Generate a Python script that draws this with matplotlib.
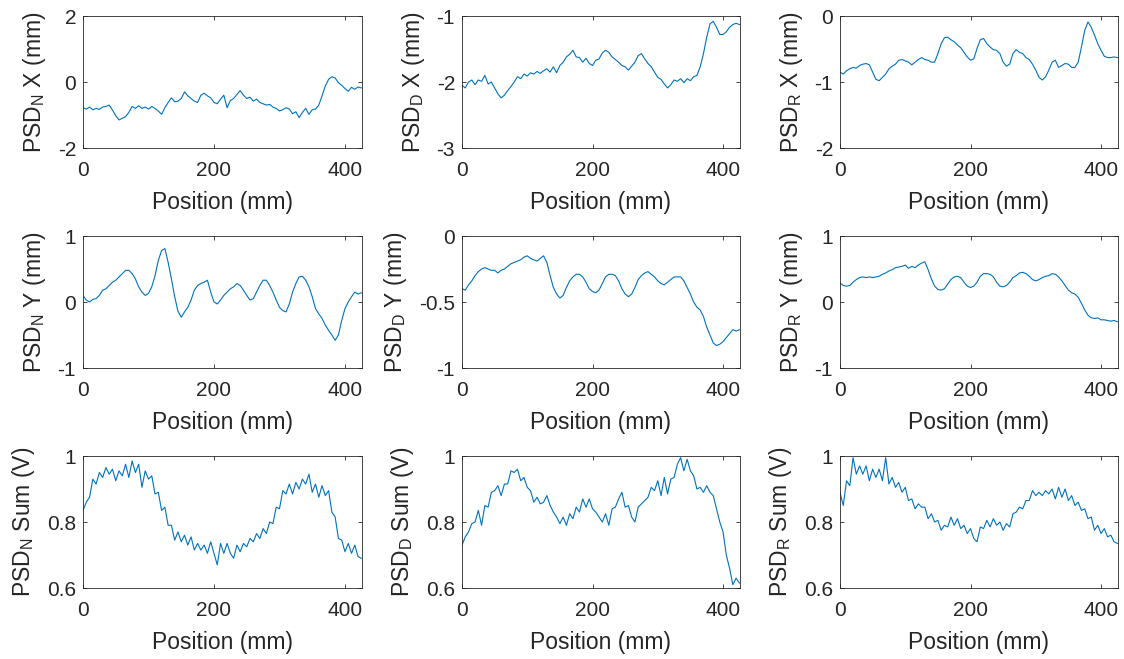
import numpy as np
import matplotlib
matplotlib.use("Agg")
import matplotlib.pyplot as plt

# Stage position along the scan, sampled every 5 mm
position_mm = np.arange(0, 430, 5)

# Detector N / D / R lateral offsets (mm)
psd_n_x = [-0.78, -0.82, -0.76, -0.84, -0.80, -0.83, -0.76, -0.74, -0.70, -0.85,
           -1.02, -1.15, -1.10, -1.05, -0.92, -0.74, -0.80, -0.72, -0.80, -0.76,
           -0.82, -0.74, -0.80, -0.88, -0.98, -0.78, -0.62, -0.48, -0.60, -0.58,
           -0.50, -0.30, -0.42, -0.50, -0.58, -0.62, -0.40, -0.34, -0.42, -0.48,
           -0.62, -0.66, -0.52, -0.40, -0.78, -0.56, -0.50, -0.38, -0.26, -0.40,
           -0.50, -0.46, -0.58, -0.52, -0.62, -0.66, -0.70, -0.68, -0.76, -0.80,
           -0.88, -0.84, -0.78, -0.82, -0.96, -0.90, -1.08, -0.92, -0.80, -0.98,
           -0.84, -0.82, -0.70, -0.42, -0.12, 0.08, 0.16, 0.12, -0.02, -0.10,
           -0.20, -0.28, -0.16, -0.22, -0.15, -0.18]
psd_d_x = [-2.05, -2.09, -2.00, -1.97, -2.04, -1.97, -1.99, -1.90, -2.03, -2.00,
           -2.09, -2.18, -2.24, -2.20, -2.13, -2.07, -2.00, -1.92, -1.95, -1.88,
           -1.91, -1.86, -1.88, -1.84, -1.87, -1.83, -1.80, -1.85, -1.77, -1.86,
           -1.75, -1.70, -1.62, -1.58, -1.52, -1.62, -1.63, -1.70, -1.64, -1.72,
           -1.75, -1.67, -1.65, -1.56, -1.52, -1.55, -1.62, -1.66, -1.70, -1.75,
           -1.77, -1.82, -1.76, -1.70, -1.60, -1.57, -1.65, -1.72, -1.77, -1.85,
           -1.93, -1.96, -2.03, -2.09, -2.04, -1.97, -1.99, -1.95, -2.01, -1.95,
           -1.98, -1.92, -1.90, -1.77, -1.57, -1.32, -1.12, -1.08, -1.17, -1.28,
           -1.28, -1.24, -1.17, -1.13, -1.11, -1.13]
psd_r_x = [-0.85, -0.88, -0.83, -0.80, -0.78, -0.79, -0.75, -0.73, -0.72, -0.74,
           -0.85, -0.96, -0.98, -0.93, -0.88, -0.80, -0.76, -0.73, -0.67, -0.66,
           -0.68, -0.70, -0.74, -0.70, -0.66, -0.63, -0.66, -0.67, -0.70, -0.70,
           -0.57, -0.42, -0.33, -0.32, -0.36, -0.39, -0.44, -0.48, -0.55, -0.62,
           -0.67, -0.65, -0.49, -0.36, -0.34, -0.42, -0.47, -0.51, -0.52, -0.57,
           -0.70, -0.76, -0.73, -0.57, -0.51, -0.55, -0.57, -0.63, -0.66, -0.73,
           -0.82, -0.93, -0.97, -0.92, -0.82, -0.70, -0.67, -0.78, -0.75, -0.72,
           -0.73, -0.78, -0.78, -0.70, -0.47, -0.22, -0.09, -0.17, -0.29, -0.42,
           -0.52, -0.61, -0.63, -0.63, -0.62, -0.63]

# Detector N / D / R vertical offsets (mm)
psd_n_y = [0.10, 0.03, 0.00, 0.04, 0.05, 0.10, 0.18, 0.20, 0.25, 0.30,
           0.33, 0.38, 0.43, 0.48, 0.48, 0.43, 0.35, 0.23, 0.15, 0.10,
           0.13, 0.23, 0.40, 0.63, 0.78, 0.81, 0.60, 0.35, 0.08, -0.14,
           -0.23, -0.15, -0.08, 0.03, 0.18, 0.25, 0.28, 0.30, 0.33, 0.15,
           0.00, -0.03, 0.03, 0.10, 0.15, 0.20, 0.23, 0.28, 0.25, 0.18,
           0.10, 0.03, 0.05, 0.15, 0.25, 0.33, 0.33, 0.25, 0.15, 0.03,
           -0.08, -0.13, -0.15, -0.03, 0.15, 0.28, 0.38, 0.39, 0.33, 0.23,
           0.08, -0.10, -0.18, -0.25, -0.35, -0.43, -0.50, -0.58, -0.50, -0.28,
           -0.10, 0.00, 0.08, 0.15, 0.12, 0.14]
psd_d_y = [-0.40, -0.41, -0.37, -0.34, -0.30, -0.27, -0.25, -0.24, -0.25, -0.26,
           -0.26, -0.28, -0.26, -0.25, -0.23, -0.21, -0.20, -0.19, -0.18, -0.16,
           -0.15, -0.17, -0.18, -0.19, -0.17, -0.15, -0.20, -0.30, -0.39, -0.44,
           -0.47, -0.45, -0.39, -0.34, -0.31, -0.29, -0.29, -0.31, -0.35, -0.40,
           -0.42, -0.43, -0.41, -0.36, -0.31, -0.29, -0.29, -0.30, -0.34, -0.40,
           -0.44, -0.46, -0.44, -0.39, -0.33, -0.30, -0.28, -0.27, -0.29, -0.31,
           -0.34, -0.36, -0.37, -0.35, -0.33, -0.31, -0.31, -0.31, -0.34, -0.39,
           -0.44, -0.50, -0.54, -0.56, -0.61, -0.69, -0.75, -0.81, -0.83, -0.82,
           -0.80, -0.77, -0.74, -0.71, -0.72, -0.71]
psd_r_y = [0.29, 0.25, 0.24, 0.25, 0.30, 0.34, 0.37, 0.38, 0.37, 0.38,
           0.37, 0.38, 0.39, 0.42, 0.44, 0.47, 0.49, 0.52, 0.53, 0.54,
           0.56, 0.51, 0.54, 0.52, 0.56, 0.59, 0.61, 0.49, 0.35, 0.24,
           0.19, 0.18, 0.20, 0.27, 0.34, 0.38, 0.39, 0.37, 0.30, 0.24,
           0.22, 0.24, 0.30, 0.39, 0.43, 0.43, 0.42, 0.38, 0.30, 0.24,
           0.23, 0.25, 0.30, 0.37, 0.40, 0.44, 0.45, 0.43, 0.39, 0.34,
           0.32, 0.34, 0.37, 0.39, 0.40, 0.43, 0.42, 0.38, 0.32, 0.25,
           0.18, 0.14, 0.12, 0.07, -0.02, -0.12, -0.20, -0.24, -0.25, -0.24,
           -0.27, -0.27, -0.28, -0.29, -0.28, -0.30]

# Detector N / D / R summed signal (V)
psd_n_sum = [0.835, 0.860, 0.875, 0.930, 0.915, 0.950, 0.935, 0.965, 0.945, 0.960,
             0.925, 0.955, 0.940, 0.975, 0.935, 0.985, 0.950, 0.975, 0.905, 0.955,
             0.930, 0.940, 0.885, 0.890, 0.835, 0.845, 0.790, 0.790, 0.745, 0.770,
             0.740, 0.760, 0.730, 0.755, 0.715, 0.735, 0.715, 0.730, 0.705, 0.740,
             0.705, 0.670, 0.735, 0.705, 0.735, 0.705, 0.690, 0.730, 0.710, 0.735,
             0.725, 0.750, 0.740, 0.765, 0.750, 0.780, 0.765, 0.800, 0.795, 0.845,
             0.840, 0.895, 0.885, 0.915, 0.885, 0.920, 0.900, 0.930, 0.915, 0.945,
             0.890, 0.915, 0.875, 0.910, 0.880, 0.895, 0.830, 0.815, 0.750, 0.745,
             0.710, 0.735, 0.705, 0.730, 0.695, 0.690]
psd_d_sum = [0.730, 0.755, 0.770, 0.795, 0.800, 0.835, 0.790, 0.850, 0.845, 0.890,
             0.895, 0.910, 0.880, 0.915, 0.915, 0.955, 0.950, 0.960, 0.925, 0.935,
             0.905, 0.895, 0.860, 0.875, 0.855, 0.860, 0.880, 0.850, 0.830, 0.815,
             0.795, 0.815, 0.790, 0.825, 0.810, 0.845, 0.830, 0.870, 0.845, 0.870,
             0.840, 0.830, 0.815, 0.800, 0.825, 0.790, 0.840, 0.845, 0.870, 0.890,
             0.845, 0.850, 0.815, 0.800, 0.845, 0.855, 0.865, 0.875, 0.905, 0.895,
             0.925, 0.880, 0.935, 0.885, 0.930, 0.935, 0.975, 0.995, 0.955, 0.990,
             0.955, 0.940, 0.900, 0.905, 0.890, 0.910, 0.890, 0.880, 0.840, 0.800,
             0.770, 0.700, 0.660, 0.610, 0.630, 0.615]
psd_r_sum = [0.890, 0.850, 0.925, 0.910, 0.995, 0.945, 0.970, 0.945, 0.970, 0.925,
             0.960, 0.935, 0.960, 0.925, 0.995, 0.915, 0.935, 0.905, 0.920, 0.890,
             0.905, 0.865, 0.870, 0.840, 0.855, 0.845, 0.845, 0.810, 0.825, 0.800,
             0.805, 0.775, 0.790, 0.785, 0.815, 0.790, 0.810, 0.780, 0.790, 0.765,
             0.780, 0.750, 0.740, 0.785, 0.780, 0.805, 0.785, 0.810, 0.790, 0.800,
             0.775, 0.795, 0.785, 0.825, 0.830, 0.845, 0.840, 0.865, 0.865, 0.895,
             0.880, 0.890, 0.880, 0.895, 0.885, 0.900, 0.870, 0.905, 0.875, 0.900,
             0.865, 0.880, 0.850, 0.860, 0.835, 0.840, 0.810, 0.815, 0.775, 0.790,
             0.765, 0.780, 0.755, 0.760, 0.740, 0.735]

detectors = ["N", "D", "R"]
rows = [
    ("X (mm)", [psd_n_x, psd_d_x, psd_r_x],
     [(-2, 2), (-3, -1), (-2, 0)],
     [[-2, 0, 2], [-3, -2, -1], [-2, -1, 0]],
     [["-2", "0", "2"], ["-3", "-2", "-1"], ["-2", "-1", "0"]]),
    ("Y (mm)", [psd_n_y, psd_d_y, psd_r_y],
     [(-1, 1), (-1, 0), (-1, 1)],
     [[-1, 0, 1], [-1, -0.5, 0], [-1, 0, 1]],
     [["-1", "0", "1"], ["-1", "-0.5", "0"], ["-1", "0", "1"]]),
    ("Sum (V)", [psd_n_sum, psd_d_sum, psd_r_sum],
     [(0.6, 1), (0.6, 1), (0.6, 1)],
     [[0.6, 0.8, 1], [0.6, 0.8, 1], [0.6, 0.8, 1]],
     [["0.6", "0.8", "1"], ["0.6", "0.8", "1"], ["0.6", "0.8", "1"]]),
]

plt.rcParams["font.family"] = ["Liberation Sans", "DejaVu Sans"]
plt.rcParams["mathtext.fontset"] = "custom"
plt.rcParams["mathtext.rm"] = "Liberation Sans"

W, H = 1124, 659
fig = plt.figure(figsize=(W / 100, H / 100), dpi=100)

col_left = [83, 462, 840]
col_width = [279, 278, 278]
row_top = [16, 236, 456]
row_height = 132

text_color = "#262626"
line_color = "#0072BD"

for r, (quantity, series, ylims, yticks, ylabels) in enumerate(rows):
    for c in range(3):
        ax = fig.add_axes([col_left[c] / W, (H - row_top[r] - row_height) / H,
                           col_width[c] / W, row_height / H])
        ax.plot(position_mm, series[c], color=line_color, linewidth=0.8)
        ax.set_xlim(0, 426)
        ax.set_ylim(*ylims[c])
        ax.set_xticks([0, 200, 400])
        ax.set_xticklabels(["0", "200", "400"])
        ax.set_yticks(yticks[c])
        ax.set_yticklabels(ylabels[c])
        ax.tick_params(direction="in", length=3, width=0.6, top=True, right=True,
                       labelsize=15, colors=text_color)
        ax.tick_params(axis="x", pad=9)
        ax.tick_params(axis="y", pad=5)
        for side in ax.spines.values():
            side.set_color(text_color)
            side.set_linewidth(0.6)
        ax.set_xlabel("Position (mm)", fontsize=16.5, color=text_color, labelpad=8)
        ax.set_ylabel(r"PSD$_\mathregular{%s}$ %s" % (detectors[c], quantity),
                      fontsize=16.5, color=text_color, labelpad=7)

fig.savefig("out.png", dpi=100, facecolor="white")
